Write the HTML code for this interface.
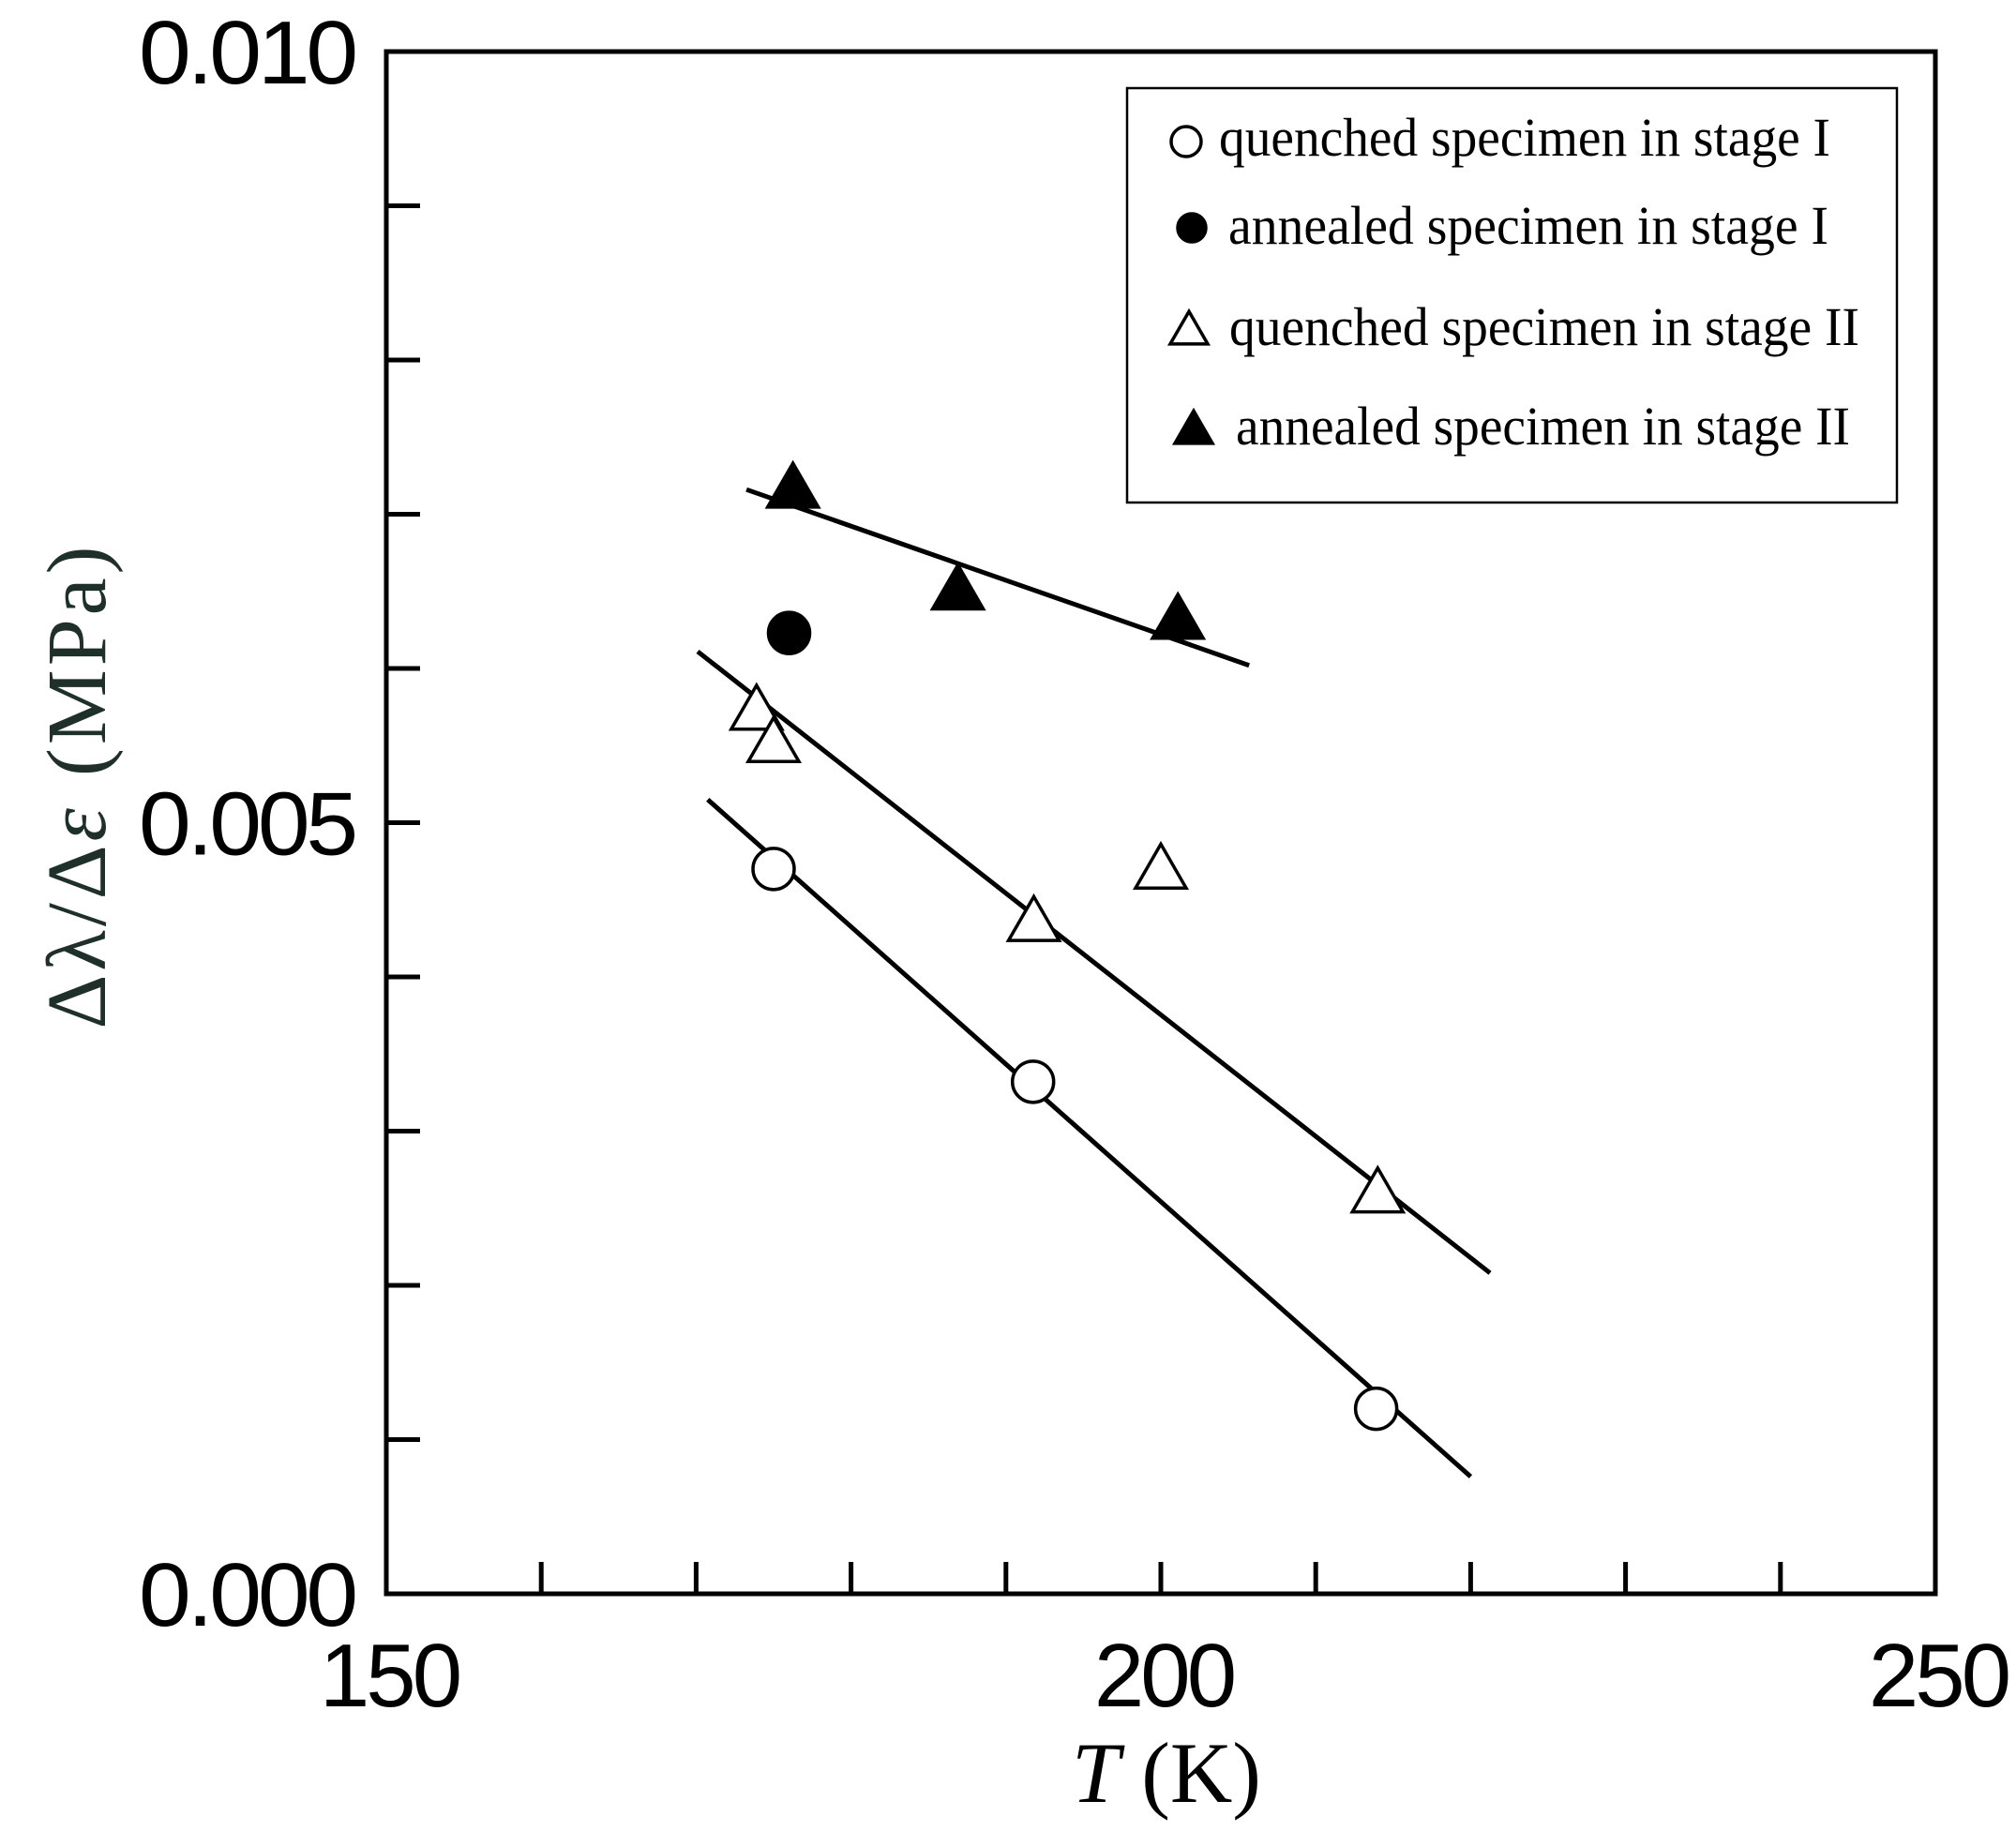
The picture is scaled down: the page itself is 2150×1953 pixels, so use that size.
<!DOCTYPE html>
<html><head><meta charset="utf-8"><style>
html,body{margin:0;padding:0;background:#fff;}
svg{display:block;}
</style></head><body>
<svg id="chart" width="2150" height="1953" viewBox="0 0 2150 1953" xmlns="http://www.w3.org/2000/svg">
<g id="axes"></g>
<g id="marks"></g>
<g id="legend"></g>
</svg>
<script>
const xTicksMajor = [150, 200, 250];
const xTicksMinor = [160, 170, 180, 190, 200, 210, 220, 230, 240];
const yTickLabels = ["0.000", "0.005", "0.010"];
const yTicksMajor = [0, 0.005, 0.010];
const yTicksMinor = [0.001, 0.002, 0.003, 0.004, 0.005, 0.006, 0.007, 0.008, 0.009];

const qStage1T = [175, 191.75, 213.9];
const qStage1V = [0.00470, 0.00332, 0.00120];
const aStage1T = [176];
const aStage1V = [0.00623];
const qStage2T = [173.9, 175, 191.8, 200, 214];
const qStage2V = [0.00572, 0.00551, 0.00435, 0.00469, 0.00259];
const aStage2T = [176.25, 186.9, 201.1];
const aStage2V = [0.00716, 0.00650, 0.00631];

const fitQ1T = [170.75, 220];
const fitQ1V = [0.00515, 0.00076];
const fitQ2T = [170.1, 221.25];
const fitQ2V = [0.00611, 0.00208];
const fitA2T = [173.25, 205.7];
const fitA2V = [0.00716, 0.00602];

const L = 412, R = 2064, T = 55, B = 1700;
const xMin = 150, xMax = 250, yMin = 0, yMax = 0.010;
function sx(v){ return L + (v - xMin) / (xMax - xMin) * (R - L); }
function sy(v){ return B - (v - yMin) / (yMax - yMin) * (B - T); }

const NS = "http://www.w3.org/2000/svg";
function mk(tag, attrs, parent){
  const e = document.createElementNS(NS, tag);
  for (const k in attrs) e.setAttribute(k, attrs[k]);
  parent.appendChild(e);
  return e;
}
const axes = document.getElementById('axes');
const marks = document.getElementById('marks');
const legend = document.getElementById('legend');

let fr = mk('rect', {x:L, y:T, width:R-L, height:B-T, fill:'none', stroke:'#000', 'stroke-width':5}, axes);



xTicksMinor.forEach(v => {
  const t = mk('line', {x1:sx(v), x2:sx(v), y1:B, y2:B-34, stroke:'#000', 'stroke-width':5}, axes);
  
  
});
yTicksMinor.forEach(v => {
  const t = mk('line', {x1:L, x2:L+36, y1:sy(v), y2:sy(v), stroke:'#000', 'stroke-width':5}, axes);
  
  
});
xTicksMajor.forEach(v => {
  const t = mk('text', {x:sx(v)+3, y:1820, 'text-anchor':'middle', 'font-family':'Liberation Sans, sans-serif', 'font-size':96, fill:'#000', 'letter-spacing':'-4'}, axes);
  t.textContent = String(v);
  
  
});
yTicksMajor.forEach((v, i) => {
  const t = mk('text', {x:378, y:sy(v)+34, 'text-anchor':'end', 'font-family':'Liberation Sans, sans-serif', 'font-size':96, fill:'#000', 'letter-spacing':'-4', textLength:230, lengthAdjust:'spacingAndGlyphs'}, axes);
  t.textContent = yTickLabels[i];
  
  
});

const xt = mk('text', {x:1244, y:1922, 'text-anchor':'middle', 'font-family':'Liberation Serif, serif', 'font-size':92, fill:'#000'}, axes);
xt.innerHTML = '<tspan font-style="italic">T</tspan> (K)';


const yt = mk('text', {x:0, y:0, 'text-anchor':'middle', 'font-family':'Liberation Serif, serif', 'font-size':90, fill:'#1f2f2a', transform:'translate(112,840) rotate(-90)', textLength:515, lengthAdjust:'spacing'}, axes);
yt.innerHTML = 'Δλ/Δ<tspan font-style="italic">ε</tspan><tspan dx="30">(MPa)</tspan>';



function fit(ts, vs, name){
  const l = mk('line', {x1:sx(ts[0]), y1:sy(vs[0]), x2:sx(ts[1]), y2:sy(vs[1]), stroke:'#000', 'stroke-width':5}, marks);
  
  
}
fit(fitQ1T, fitQ1V, 'fit-line-quenched-stage-1');
fit(fitQ2T, fitQ2V, 'fit-line-quenched-stage-2');
fit(fitA2T, fitA2V, 'fit-line-annealed-stage-2');

function circle(parent, cx, cy, r, filled, name){
  const c = mk('circle', {cx:cx, cy:cy, r:r, fill: filled ? '#000' : '#fff', stroke:'#000', 'stroke-width':3.5}, parent);
  
  
}
function tri(parent, cx, cy, s, filled, name){
  const h = s * 0.866;
  const p = `${cx},${cy - h*0.6} ${cx - s/2},${cy + h*0.4} ${cx + s/2},${cy + h*0.4}`;
  const t = mk('polygon', {points:p, fill: filled ? '#000' : '#fff', stroke:'#000', 'stroke-width':3.5, 'stroke-linejoin':'miter'}, parent);
  
  
}
qStage1T.forEach((t, i) => circle(marks, sx(t), sy(qStage1V[i]), 22, false, 'point-quenched-stage-1'));
aStage1T.forEach((t, i) => circle(marks, sx(t), sy(aStage1V[i]), 22, true, 'point-annealed-stage-1'));
qStage2T.forEach((t, i) => tri(marks, sx(t), sy(qStage2V[i]), 54, false, 'point-quenched-stage-2'));
aStage2T.forEach((t, i) => tri(marks, sx(t), sy(aStage2V[i]), 54, true, 'point-annealed-stage-2'));

const lb = mk('rect', {x:1202, y:94, width:821, height:442, fill:'#fff', stroke:'#000', 'stroke-width':2.5}, legend);


const legLabels = ['quenched specimen in stage I', 'annealed specimen in stage I', 'quenched specimen in stage II', 'annealed specimen in stage II'];
const legY = [149, 243, 351, 457];
const legX = [1300, 1310, 1311, 1318];
const legW = [652, 640, 672, 655];
legLabels.forEach((s, i) => {
  const t = mk('text', {x:legX[i], y:legY[i]+17, 'font-family':'Liberation Serif, serif', 'font-size':58, fill:'#000', textLength:legW[i], lengthAdjust:'spacingAndGlyphs'}, legend);
  t.textContent = s;
  
  
});
circle(legend, 1265, legY[0]+2, 16, false, 'legend-symbol-open-circle');
circle(legend, 1271, legY[1], 15, true, 'legend-symbol-filled-circle');
tri(legend, 1268, legY[2]+2, 40, false, 'legend-symbol-open-triangle');
tri(legend, 1273, legY[3]+2, 40, true, 'legend-symbol-filled-triangle');
</script>
</body></html>
